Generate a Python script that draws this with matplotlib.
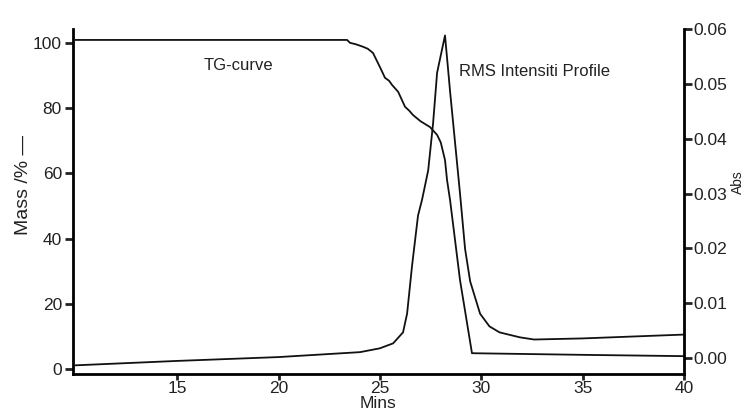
import matplotlib
matplotlib.use("Agg")
import matplotlib.pyplot as plt

plt.rcParams['font.family'] = ['Liberation Sans', 'DejaVu Sans']

# TG curve (mass %, left axis)
tg_mins = [10, 23.38, 23.53, 23.8, 24.17, 24.4, 24.66, 25.0, 25.25, 25.45, 25.6,
           25.9, 26.24, 26.45, 26.63, 27.0, 27.47, 27.82, 28.0, 28.21, 28.31,
           28.46, 28.95, 29.54, 35, 40]
tg_mass = [100.9, 100.9, 100.0, 99.6, 98.8, 98.2, 96.9, 92.6, 89.3, 88.4, 87.1,
           85.0, 80.4, 79.2, 77.9, 76.0, 74.2, 71.8, 69.5, 64.1, 58.0,
           51.8, 27.3, 4.9, 4.4, 4.0]

# RMS intensity profile (Abs, right axis)
rms_mins = [10, 15, 20, 24.02, 25.0, 25.65, 26.14, 26.34, 26.59, 26.88, 27.08,
            27.38, 27.62, 27.82, 28.21, 28.46, 28.95, 29.2, 29.45, 29.94, 30.4,
            30.9, 31.9, 32.6, 35, 40]
rms_abs = [-0.0013, -0.0005, 0.0002, 0.0011, 0.0018, 0.0027, 0.0047, 0.0081, 0.017,
           0.026, 0.0289, 0.0342, 0.0427, 0.052, 0.0588, 0.0486, 0.030, 0.0199,
           0.014, 0.0081, 0.0058, 0.0047, 0.0038, 0.0034, 0.0036, 0.0043]

x_ticks = [15, 20, 25, 30, 35, 40]
mass_ticks = [0, 20, 40, 60, 80, 100]
abs_ticks = [0.00, 0.01, 0.02, 0.03, 0.04, 0.05, 0.06]

fig = plt.figure(figsize=(7.46, 4.12), dpi=100)
ax = fig.add_axes([0.098, 0.092, 0.819, 0.838])
ax2 = ax.twinx()

ax.plot(tg_mins, tg_mass, color='#111111', lw=1.3)
ax2.plot(rms_mins, rms_abs, color='#111111', lw=1.3)

ax.set_xlim(9.87, 40)
ax.set_ylim(-1.5, 104.3)
ax2.set_ylim(-0.0029, 0.0589)

ax.set_xticks(x_ticks)
ax.set_yticks(mass_ticks)
ax2.set_yticks(abs_ticks)
ax2.set_yticklabels(['%.2f' % v for v in abs_ticks])

for a in (ax, ax2):
    a.spines['top'].set_visible(False)
    for s in ('left', 'right', 'bottom'):
        a.spines[s].set_linewidth(2)
ax.spines['right'].set_visible(False)
ax2.spines['left'].set_visible(False)
ax2.spines['bottom'].set_visible(False)

ax.tick_params(axis='y', length=6, width=2, labelsize=12.5, pad=2, colors='#222222')
ax.tick_params(axis='x', length=4, width=2, labelsize=12.5, pad=1, colors='#222222')
ax2.tick_params(axis='y', length=6, width=2, labelsize=12.5, pad=1, colors='#222222')

ax.set_xlabel('Mins', fontsize=12.5, color='#222222')
ax.xaxis.set_label_coords(0.499, -0.064)
ax.set_ylabel('Mass /% \u2014', fontsize=14, color='#222222')
ax.yaxis.set_label_coords(-0.068, 0.548)
ax2.set_ylabel('Abs', fontsize=10, color='#222222')
ax2.yaxis.set_label_coords(1.076, 0.557)

ax.text(16.3, 93, 'TG-curve', fontsize=12, color='#222222', va='center')
ax.text(28.9, 91.2, 'RMS Intensiti Profile', fontsize=12, color='#222222', va='center')

fig.savefig('out.png', dpi=100, facecolor='white')
